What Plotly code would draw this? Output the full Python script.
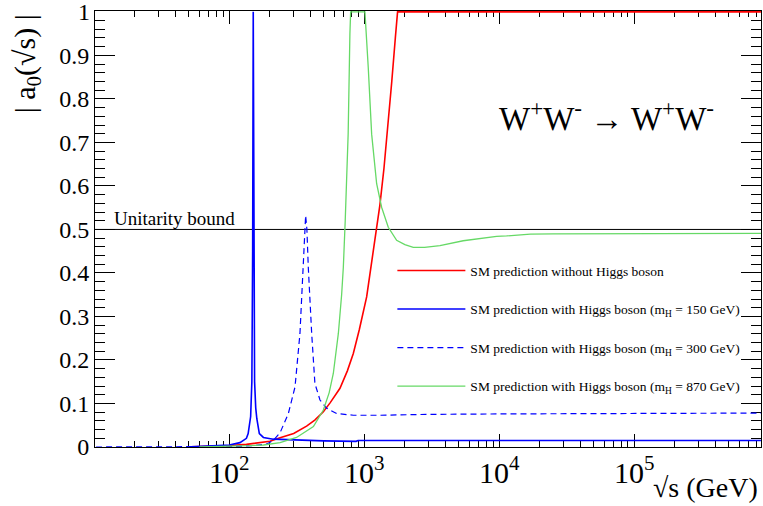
import plotly.graph_objects as go

# sqrt(s) in GeV and |a0|
noh_x = [52, 80, 100, 134, 170, 200, 238, 300, 374, 430, 498, 560, 661, 750, 830, 920,
         1042, 1146, 1236, 1306, 1400, 1500, 1600, 1700, 1766, 2000, 10000, 100000, 870000]
noh_y = [0.0003, 0.002, 0.0035, 0.006, 0.0095, 0.013, 0.021, 0.031, 0.048, 0.062, 0.081,
         0.102, 0.135, 0.175, 0.215, 0.27, 0.345, 0.43, 0.50, 0.556, 0.64, 0.735, 0.84,
         0.94, 1.0, 1.0, 1.0, 1.0, 1.0]

h150_x = [52, 76, 100, 120, 134, 138, 144, 147, 149, 150.5, 152, 154, 157, 160, 167, 179,
          212, 298, 500, 870, 900, 10000, 100000, 870000]
h150_y = [0.0002, 0.002, 0.0046, 0.010, 0.02, 0.031, 0.07, 0.15, 0.45, 1.0, 0.45, 0.15,
          0.09, 0.065, 0.031, 0.022, 0.018, 0.016, 0.014, 0.013, 0.015, 0.015, 0.015, 0.015]

h300_x = [10.3, 50, 100, 150, 190, 212, 238, 274, 307, 334, 353, 362, 368, 376, 385, 408,
          431, 470, 527, 625, 830, 1306, 3000, 10000, 100000, 870000]
h300_y = [0.0, 0.0002, 0.001, 0.003, 0.007, 0.015, 0.033, 0.077, 0.138, 0.261, 0.413, 0.5,
          0.532, 0.5, 0.413, 0.261, 0.146, 0.108, 0.089, 0.077, 0.073, 0.073, 0.075, 0.076,
          0.077, 0.078]

h870_x = [60, 101, 140, 179, 238, 315, 420, 498, 550, 590, 643, 680, 700, 723, 760, 783,
          793, 850, 950, 1012, 1071, 1135, 1236, 1345, 1507, 1738, 2000, 2309, 2800, 3640,
          5410, 6410, 9570, 11350, 17000, 25100, 100000, 870000]
h870_y = [0.0004, 0.001, 0.003, 0.0046, 0.010, 0.022, 0.047, 0.085, 0.125, 0.169, 0.261,
          0.35, 0.413, 0.52, 0.719, 0.949, 1.0, 1.0, 1.0, 1.0, 0.872, 0.719, 0.605, 0.551,
          0.505, 0.475, 0.465, 0.459, 0.459, 0.463, 0.474, 0.477, 0.484, 0.485, 0.489,
          0.490, 0.491, 0.491]

bound_x = [10, 1000000]
bound_y = [0.5, 0.5]

FONT = 'Liberation Serif, Times New Roman, serif'
GREEN = '#66d966'

traces = [
    go.Scatter(x=bound_x, y=bound_y, mode='lines', showlegend=False,
               line=dict(color='black', width=1)),
    go.Scatter(x=noh_x, y=noh_y, mode='lines', legendgroup='a',
               name='SM prediction without Higgs boson',
               line=dict(color='#ff0000', width=1.6)),
    go.Scatter(x=h150_x, y=h150_y, mode='lines', legendgroup='b',
               name='SM prediction with Higgs boson (m<sub>H</sub> = 150 GeV)',
               line=dict(color='#0000ff', width=1.6)),
    go.Scatter(x=h300_x, y=h300_y, mode='lines', legendgroup='c',
               name='SM prediction with Higgs boson (m<sub>H</sub> = 300 GeV)',
               line=dict(color='#0000ff', width=1.2, dash='6px,4px')),
    go.Scatter(x=h870_x, y=h870_y, mode='lines', legendgroup='d',
               name='SM prediction with Higgs boson (m<sub>H</sub> = 870 GeV)',
               line=dict(color=GREEN, width=1.3)),
]

layout = go.Layout(
    width=763, height=506,
    margin=dict(l=95, r=2, t=11, b=59),
    paper_bgcolor='white', plot_bgcolor='white',
    font=dict(family=FONT, color='black'),
    xaxis=dict(type='log', range=[1.005, 5.94], dtick=1, exponentformat='power',
               showline=True, linecolor='black', linewidth=1, mirror='ticks',
               ticks='inside', ticklen=13, tickcolor='black', showgrid=False,
               zeroline=False, tickfont=dict(size=24, family=FONT),
               minor=dict(ticks='inside', ticklen=6, tickcolor='black', dtick='D1',
                          showgrid=False),
               layer='below traces'),
    yaxis=dict(range=[0, 1.002], dtick=0.1, tick0=0,
               showline=True, linecolor='black', linewidth=1, mirror='ticks',
               ticks='inside', ticklen=20, tickcolor='black', showgrid=False,
               zeroline=False, tickfont=dict(size=24, family=FONT),
               minor=dict(ticks='inside', ticklen=10, tickcolor='black', dtick=0.02,
                          showgrid=False),
               layer='below traces'),
    legend=dict(x=0.4465, y=0.44, xanchor='left', yanchor='top',
                bgcolor='rgba(0,0,0,0)', font=dict(size=13.5, family=FONT),
                itemwidth=68, tracegroupgap=18),
    annotations=[
        # top tick label sits against the page edge, plotly would hide it
        dict(text='1', xref='paper', yref='y', x=0, y=1, xanchor='right',
             yanchor='middle', xshift=-3, showarrow=False,
             font=dict(size=24, family=FONT)),
        dict(text='Unitarity bound', xref='paper', yref='y', x=0.026, y=0.5,
             xanchor='left', yanchor='bottom', showarrow=False, yshift=-2,
             font=dict(size=19, family=FONT)),
        dict(text='W<sup>+</sup>W<sup>-</sup> → W<sup>+</sup>W<sup>-</sup>',
             xref='paper', yref='paper', x=0.768, y=0.76, showarrow=False,
             xanchor='center', yanchor='middle', font=dict(size=33, family=FONT)),
        dict(text='| a<sub>0</sub>(√s) |', xref='paper', yref='paper',
             x=-0.102, y=0.878, textangle=-90, showarrow=False,
             xanchor='center', yanchor='middle', font=dict(size=30, family=FONT)),
        dict(text='√s (GeV)', xref='paper', yref='paper', x=0.998, y=-0.094,
             xanchor='right', yanchor='middle', showarrow=False,
             font=dict(size=28, family=FONT)),
    ],
)

fig = go.Figure(data=traces, layout=layout)
# drop the default 8px body margin so the 763x506 figure fills the window
fig.write_html('out.html', config={'displayModeBar': False},
               post_script="document.body.style.margin='0';")
